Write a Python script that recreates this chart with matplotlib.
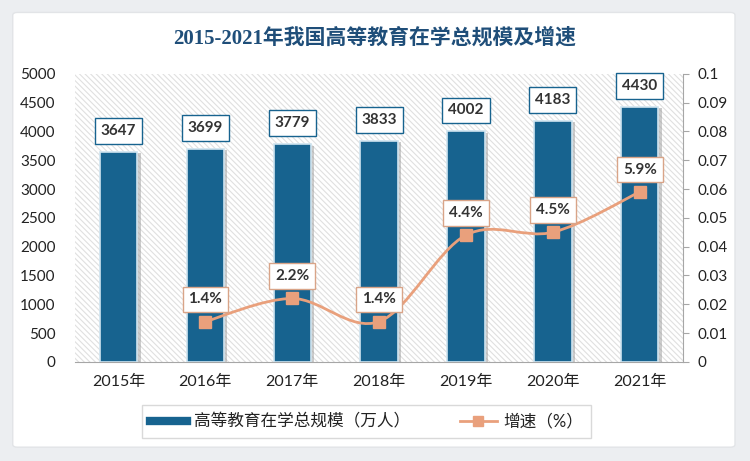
import matplotlib
matplotlib.use("Agg")
import matplotlib.pyplot as plt
from matplotlib.patches import FancyBboxPatch
from matplotlib.path import Path
from matplotlib.patches import PathPatch
from matplotlib.lines import Line2D
import matplotlib.patheffects as pe

plt.rcParams["font.family"] = ["Lato", "Noto Sans CJK SC", "DejaVu Sans"]
plt.rcParams["hatch.color"] = "#e0e0e0"
plt.rcParams["hatch.linewidth"] = 0.8

# 数据
years = ["2015年", "2016年", "2017年", "2018年", "2019年", "2020年", "2021年"]
scale = [3647, 3699, 3779, 3833, 4002, 4183, 4430]  # 万人
growth = [None, 0.014, 0.022, 0.014, 0.044, 0.045, 0.059]
growth_labels = ["", "1.4%", "2.2%", "1.4%", "4.4%", "4.5%", "5.9%"]

bar_color = "#17638f"
line_color = "#e9a07c"
text_color = "#333333"

fig = plt.figure(figsize=(7.5, 4.61), dpi=100, facecolor="#eceef1")

# 白色卡片背景
card = FancyBboxPatch((0.017, 0.03), 0.963, 0.943, boxstyle="round,pad=0,rounding_size=0.006",
                      transform=fig.transFigure, facecolor="white", edgecolor="#e2e4e7",
                      linewidth=1.0, zorder=-10)
fig.patches.append(card)

ax = fig.add_axes([0.1, 0.215, 0.811, 0.625])
ax.set_facecolor("white")
ax.patch.set_hatch("\\\\\\\\\\\\")
ax.patch.set_edgecolor("#e0e0e0")
ax.patch.set_linewidth(0)

x = list(range(len(years)))
bars = ax.bar(x, scale, width=0.43, color=bar_color, edgecolor="#cfe4f0", linewidth=1.2, zorder=3,
              path_effects=[pe.SimplePatchShadow(offset=(2.5, -1), shadow_rgbFace="#9a9a9a", alpha=0.5),
                            pe.Normal()])

ax.set_xlim(-0.5, 6.5)
ax.set_ylim(0, 5000)
ax.set_yticks(range(0, 5001, 500))
ax.set_xticks(x)
ax.set_xticklabels(years)
ax.tick_params(axis="y", length=0, pad=14, labelsize=11, labelcolor="#222222")
ax.tick_params(axis="x", length=0, pad=9, labelsize=11.5, labelcolor="#222222")
for s in ["top", "left", "right"]:
    ax.spines[s].set_visible(False)
ax.spines["bottom"].set_color("#a6a6a6")

for xi, v in zip(x, scale):
    ax.annotate(str(v), (xi, v), xytext=(0, 15), textcoords="offset points",
                ha="center", va="center", fontsize=11, fontweight="bold", color=text_color,
                bbox=dict(boxstyle="square,pad=0.38", facecolor="white", edgecolor=bar_color, linewidth=1.0),
                zorder=6)

# 右轴：增速
ax2 = ax.twinx()
ax2.set_ylim(0, 0.1)
ax2.set_yticks([i / 100 for i in range(0, 11)])
ax2.set_yticklabels(["0"] + ["%g" % (i / 100) for i in range(1, 11)])
ax2.tick_params(axis="y", length=4, color="#a6a6a6", pad=6, labelsize=11, labelcolor="#222222")
for s in ["top", "left", "bottom"]:
    ax2.spines[s].set_visible(False)
ax2.spines["right"].set_color("#a6a6a6")

gx = [xi for xi, g in zip(x, growth) if g is not None]
gy = [g for g in growth if g is not None]

# 平滑曲线（三次贝塞尔，控制点取相邻数据点）
verts = [(gx[0], gy[0])]
codes = [Path.MOVETO]
n = len(gx)
for i in range(n - 1):
    p0 = (gx[max(i - 1, 0)], gy[max(i - 1, 0)])
    p1 = (gx[i], gy[i])
    p2 = (gx[i + 1], gy[i + 1])
    p3 = (gx[min(i + 2, n - 1)], gy[min(i + 2, n - 1)])
    c1 = (p1[0] + (p2[0] - p0[0]) / 6, p1[1] + (p2[1] - p0[1]) / 6)
    c2 = (p2[0] - (p3[0] - p1[0]) / 6, p2[1] - (p3[1] - p1[1]) / 6)
    verts += [c1, c2, p2]
    codes += [Path.CURVE4] * 3
ax2.add_patch(PathPatch(Path(verts, codes), facecolor="none", edgecolor=line_color, linewidth=2.0, zorder=4))
ax2.plot(gx, gy, linestyle="none", marker="s", markersize=8, color=line_color, zorder=5)

for xi, g, lab in zip(x, growth, growth_labels):
    if g is None:
        continue
    ax2.annotate(lab, (xi, g), xytext=(0, 16), textcoords="offset points",
                 ha="center", va="center", fontsize=11, fontweight="bold", color=text_color,
                 bbox=dict(boxstyle="square,pad=0.38", facecolor="white", edgecolor="#d9a488", linewidth=1.0),
                 zorder=6)

# 标题
fig.text(0.5, 0.917, "2015-2021年我国高等教育在学总规模及增速", ha="center", va="center",
         fontsize=15, fontweight="bold", color="#1f4e79",
         family=["Liberation Serif", "Noto Sans CJK SC"])

# 图例
handles = [Line2D([], [], color=bar_color, linewidth=6),
           Line2D([], [], color=line_color, linewidth=2, marker="s", markersize=7)]
leg = fig.legend(handles, ["高等教育在学总规模（万人）", "增速（%）"], loc="center",
                 bbox_to_anchor=(0.489, 0.085), ncol=2, frameon=True, fancybox=False,
                 fontsize=12, handlelength=2.2, handletextpad=0.4, columnspacing=3.0, borderpad=0.5,
                 edgecolor="#d0d0d0", labelcolor="#222222")
leg.get_frame().set_linewidth(1.0)

fig.savefig("out.png", dpi=100, facecolor=fig.get_facecolor())
